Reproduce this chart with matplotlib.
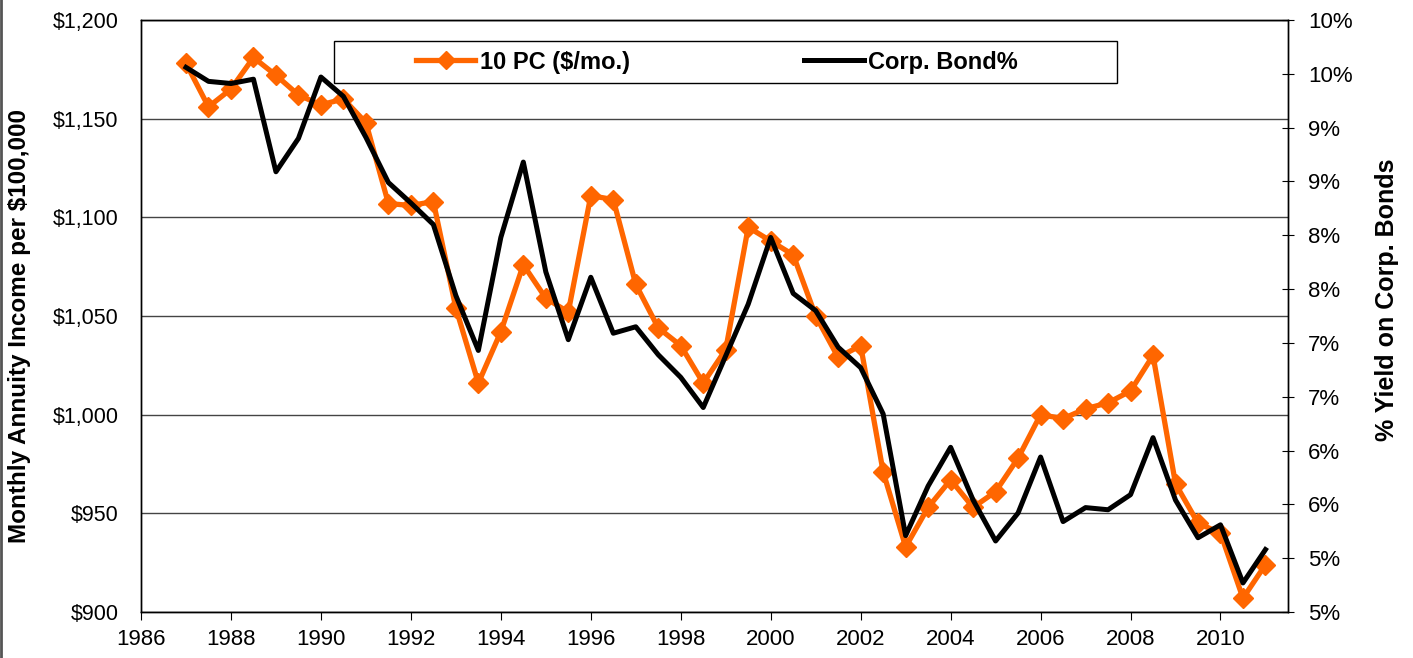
import matplotlib.pyplot as plt
import numpy as np
from matplotlib.ticker import FuncFormatter, MultipleLocator
from matplotlib.patches import Rectangle
from matplotlib.lines import Line2D

plt.rcParams['font.family'] = ['Liberation Sans', 'DejaVu Sans']

# half-year observations 1987.0 .. 2011.0
years = np.arange(1987.0, 2011.01, 0.5)

# 10 PC monthly income ($ per $100,000)
pc_income = [1178, 1156, 1165, 1181, 1172, 1162, 1157, 1160, 1148, 1107,
             1106, 1108, 1054, 1016, 1042, 1076, 1059, 1052, 1111, 1109,
             1066, 1044, 1035, 1016, 1033, 1095, 1088, 1081, 1050, 1029,
             1035, 971, 933, 953, 967, 953, 961, 978, 1000, 998,
             1003, 1006, 1012, 1030, 965, 945, 940, 907, 924]

# corporate bond yield (%)
bond_yield = [9.56, 9.43, 9.41, 9.45, 8.59, 8.90, 9.47, 9.29, 8.91, 8.49,
              8.30, 8.10, 7.44, 6.93, 7.98, 8.68, 7.66, 7.03, 7.61, 7.09,
              7.15, 6.89, 6.68, 6.40, 6.88, 7.36, 7.98, 7.46, 7.30, 6.96,
              6.77, 6.34, 5.21, 5.67, 6.03, 5.54, 5.16, 5.42, 5.94, 5.34,
              5.47, 5.45, 5.59, 6.12, 5.54, 5.19, 5.31, 4.77, 5.08]

orange = '#FF6600'

fig = plt.figure(figsize=(14.13, 6.58), dpi=100)
ax = fig.add_axes([0.0998, 0.0699, 0.8117, 0.8997])
ax2 = ax.twinx()

l1, = ax.plot(years, pc_income, color=orange, lw=3.8, marker='D', ms=10.5,
              mec=orange, mfc=orange, label='10 PC ($/mo.)')
l2, = ax2.plot(years, bond_yield, color='black', lw=3.6, label='Corp. Bond%')

ax.set_xlim(1986, 2011.5)
ax.set_ylim(900, 1200)
ax.xaxis.set_major_locator(MultipleLocator(2))
ax.yaxis.set_major_locator(MultipleLocator(50))
ax.yaxis.grid(True, color='#444444', lw=1)
ax.set_axisbelow(True)
ax.yaxis.set_major_formatter(FuncFormatter(lambda v, p: '${:,.0f}'.format(v)))
ax.tick_params(axis='y', length=0, labelsize=15.5, pad=16)
ax.tick_params(axis='x', direction='out', length=6, labelsize=16, pad=6)

ax2.set_ylim(4.5, 10.0)
ax2.set_yticks(np.arange(4.5, 10.01, 0.5))
ax2.yaxis.set_major_formatter(
    FuncFormatter(lambda v, p: '{:d}%'.format(int(np.floor(v + 0.5 + 1e-9)))))
ax2.tick_params(axis='y', direction='inout', length=9, labelsize=16, pad=10)

for a in (ax, ax2):
    for s in a.spines.values():
        s.set_color('black')
        s.set_linewidth(1)

ax.set_ylabel('Monthly Annuity Income per $100,000', fontsize=17.5,
              fontweight='bold')
ax.yaxis.set_label_coords(-0.0959, 0.483)
ax2.set_ylabel('% Yield on Corp. Bonds', fontsize=18, fontweight='bold')
ax2.yaxis.set_label_coords(1.0758, 0.527)

# legend box
fig.add_artist(Rectangle((334 / 1413, 1 - 83 / 658), 783 / 1413, 42 / 658,
                         transform=fig.transFigure, fill=True, fc='white',
                         ec='black', lw=1, zorder=5))
leg = fig.legend(handles=[l1, l2], loc='center left',
                 bbox_to_anchor=(416 / 1413, 1 - 62 / 658), ncol=2,
                 frameon=False, prop={'weight': 'bold', 'size': 17},
                 handlelength=2.5, handletextpad=0.2, columnspacing=7.4,
                 borderpad=0, borderaxespad=0)
leg.set_zorder(6)
for h in leg.legend_handles:
    h.set_markersize(9)

fig.add_artist(Line2D([0.001, 0.001], [0, 1], transform=fig.transFigure,
                      color='#555555', lw=2))

fig.savefig('out.png', dpi=100)
